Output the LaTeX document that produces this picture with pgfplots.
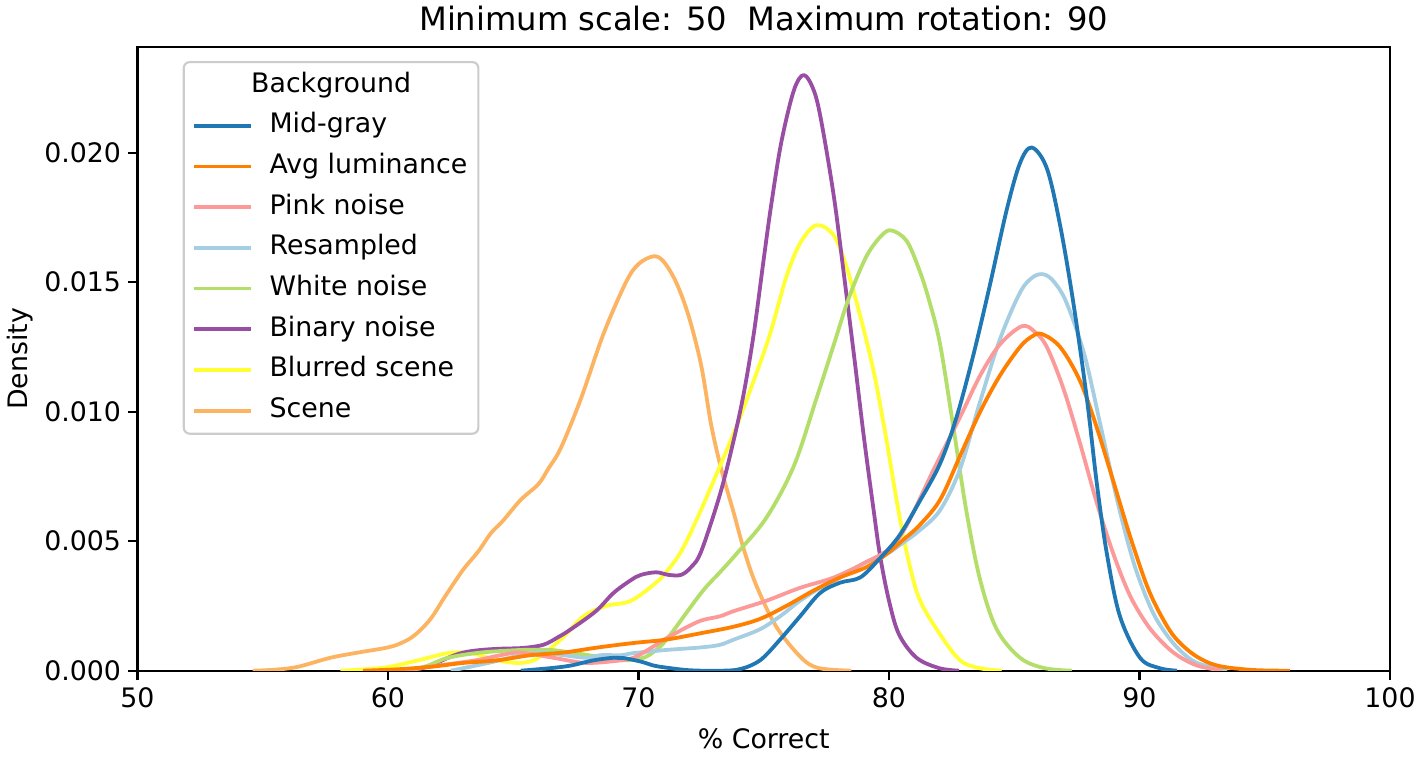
\documentclass[border=0pt]{standalone}
\usepackage{fontspec}
\setmainfont{DejaVu Sans}
\usepackage{pgfplots}
\pgfplotsset{compat=1.18}

\definecolor{cMid}{HTML}{1F78B4}
\definecolor{cAvg}{HTML}{FF7F00}
\definecolor{cPink}{HTML}{FB9A99}
\definecolor{cRes}{HTML}{A6CEE3}
\definecolor{cWhite}{HTML}{B3DE69}
\definecolor{cBin}{HTML}{984EA3}
\definecolor{cBlur}{HTML}{FFFF33}
\definecolor{cScene}{HTML}{FDB462}

\newcommand{\tfont}{\fontsize{13.4}{16}\selectfont}

\begin{document}
\begin{tikzpicture}
\begin{axis}[
  at={(0,0)}, anchor=south west,
  scale only axis,
  width=626.25pt, height=311.7pt,
  xmin=50, xmax=100, ymin=0, ymax=0.02407,
  xtick={50,60,70,80,90,100},
  ytick={0,0.005,0.010,0.015,0.020},
  scaled y ticks=false,
  yticklabel={\pgfmathprintnumber[fixed,fixed zerofill,precision=3]{\tick}},
  /pgf/number format/assume math mode=true,
  tick align=outside,
  xtick pos=bottom, ytick pos=left,
  major tick length=4.7pt,
  axis line style={line width=1.07pt},
  every tick/.style={line width=1.07pt, black},
  minor tick num=0,
  tick label style={font=\tfont},
  xticklabel style={anchor=north, yshift=0pt},
  yticklabel style={anchor=east},
  title={Minimum scale: 50\ \ Maximum rotation: 90},
  title style={font=\fontsize{16.1}{19}\selectfont, at={(axis description cs:0.5,1.0069)}, anchor=base, yshift=0pt},
  xlabel={\% Correct},
  xlabel style={font=\tfont, at={(axis description cs:0.5,-0.124)}, anchor=base},
  ylabel={Density},
  ylabel style={font=\tfont, at={(axis description cs:-0.0878,0.5)}, anchor=base},
  every axis plot/.append style={line width=1.9pt, line join=round, smooth, tension=0.55},
  legend cell align=left,
  legend image code/.code={\draw[#1, line width=1.9pt] (0pt,0pt) -- (28.5pt,0pt); \path (-3.5pt,0pt) (32pt,0pt);},
  legend style={
    at={(axis description cs:0.0361,0.978)}, anchor=north west,
    draw=black!20, line width=1.07pt, rounded corners=3pt, fill=white,
    font=\tfont, row sep=3.35pt,
    inner xsep=0.5pt, inner ysep=3pt,
    nodes={text height=10pt, text depth=3pt, inner ysep=2pt, inner xsep=5pt},
  },
]
% Scene
\addplot[cScene, forget plot] coordinates {
(54.6,0) (55.5,0.00004) (56.4,0.00015) (57.7,0.0005) (58.8,0.0007) (60.0,0.0009) (60.6,0.0011) (61.1,0.0014) (61.7,0.0020) (62.3,0.0029) (63.0,0.0039) (63.6,0.0046) (64.1,0.0053) (64.6,0.0058) (65.3,0.0066) (66.0,0.0072) (66.4,0.0078) (66.9,0.0086) (67.7,0.0105) (68.6,0.0130) (69.5,0.0150) (70.0,0.0157) (70.6,0.0160) (71.0,0.0158) (71.5,0.0150) (72.0,0.0137) (72.5,0.0118) (72.9,0.0095) (73.3,0.0078) (73.8,0.0061) (74.2,0.0047) (74.7,0.0033) (75.5,0.0017) (76.5,0.0005) (77.2,0.0001) (78.5,0)
};
% Blurred scene
\addplot[cBlur, forget plot] coordinates {
(58.1,0) (59.0,0.00005) (60.0,0.00014) (61.2,0.0004) (62.4,0.00068) (63.3,0.00068) (64.4,0.0004) (65.3,0.0003) (66.0,0.0005) (67.0,0.0013) (67.8,0.0021) (68.7,0.0025) (69.7,0.0027) (70.7,0.0034) (71.1,0.0038) (71.7,0.0046) (72.4,0.0060) (73.25,0.0079) (73.9,0.0094) (74.6,0.0112) (75.25,0.0130) (75.9,0.0152) (76.45,0.0165) (77.1,0.0172) (77.8,0.0168) (78.3,0.0156) (78.85,0.0137) (79.4,0.0115) (79.9,0.0089) (80.3,0.0066) (80.7,0.0046) (81.2,0.0028) (82.04,0.0014) (82.84,0.0004) (83.6,0.0001) (84.5,0)
};
% Binary noise
\addplot[cBin, forget plot] coordinates {
(61.0,0) (61.7,0.0002) (62.4,0.0005) (63.0,0.0007) (63.7,0.0008) (64.5,0.00085) (65.4,0.00088) (66.2,0.0010) (66.8,0.0013) (67.3,0.0016) (68.3,0.0023) (69.0,0.0030) (69.7,0.0035) (70.1,0.0037) (70.7,0.0038) (71.2,0.0037) (71.7,0.0037) (72.1,0.0040) (72.5,0.0046) (73.25,0.0068) (73.8,0.0089) (74.2,0.0107) (74.6,0.0130) (75.0,0.0159) (75.3,0.0180) (75.7,0.0204) (76.2,0.0224) (76.6,0.0230) (77.0,0.0224) (77.3,0.0212) (77.8,0.0183) (78.2,0.0153) (78.6,0.0122) (79.0,0.0090) (79.4,0.0061) (79.65,0.0044) (80.0,0.0027) (80.4,0.0014) (81.1,0.0005) (82.0,0.0001) (82.8,0)
};
% White noise
\addplot[cWhite, forget plot] coordinates {
(60.9,0) (61.6,0.0002) (62.4,0.0005) (63.7,0.0007) (65.3,0.0008) (66.5,0.0008) (67.3,0.0007) (68.0,0.0006) (68.6,0.0005) (69.5,0.0004) (70.2,0.0005) (70.7,0.0008) (71.2,0.0013) (72.5,0.0030) (73.25,0.0038) (73.9,0.0045) (75.1,0.0059) (76.2,0.0079) (77.1,0.0105) (77.8,0.0126) (78.4,0.0144) (79.1,0.0160) (79.7,0.0168) (80.1,0.0170) (80.7,0.0166) (81.2,0.0155) (81.6,0.0143) (82.04,0.0126) (82.57,0.0094) (83.1,0.0061) (83.64,0.0035) (84.3,0.0016) (85.23,0.0005) (86.2,0.0001) (87.3,0)
};
% Resampled
\addplot[cRes, forget plot] coordinates {
(62.5,0) (64.0,0.0003) (65.3,0.0006) (66.0,0.0007) (67.0,0.0006) (67.9,0.0005) (68.5,0.0006) (69.3,0.0006) (69.8,0.00068) (71.1,0.0008) (72.5,0.0009) (73.25,0.0010) (73.8,0.0012) (74.85,0.0016) (75.65,0.0021) (76.45,0.0027) (77.25,0.0032) (78.05,0.0036) (79.1,0.0042) (79.9,0.0045) (80.5,0.0049) (81.2,0.0054) (82.04,0.0062) (82.84,0.0078) (83.64,0.0104) (84.43,0.0128) (85.23,0.0146) (85.75,0.0152) (86.19,0.0153) (86.6,0.0150) (87.09,0.0142) (87.8,0.0122) (88.46,0.0094) (89.13,0.0065) (89.79,0.0041) (90.46,0.0024) (91.0,0.0015) (91.6,0.0008) (92.3,0.0003) (93.5,0)
};
% Pink noise
\addplot[cPink, forget plot] coordinates {
(60.5,0) (62.0,0.0002) (63.5,0.0004) (64.5,0.0006) (65.3,0.0007) (66.6,0.0005) (67.9,0.0003) (69.3,0.0004) (69.8,0.0005) (70.2,0.0007) (70.7,0.0010) (71.2,0.0013) (72.4,0.0019) (73.25,0.0021) (73.8,0.0023) (75.1,0.0027) (76.45,0.0032) (77.8,0.0036) (79.1,0.0042) (80.0,0.0047) (80.7,0.0056) (81.8,0.0078) (82.84,0.0098) (83.64,0.0114) (84.43,0.0126) (85.3,0.0133) (85.8,0.0131) (86.3,0.0125) (86.96,0.0109) (87.62,0.0088) (88.29,0.0065) (88.96,0.0045) (89.62,0.0029) (90.29,0.0018) (90.9,0.0011) (91.5,0.0006) (92.3,0.0002) (93.3,0)
};
% Avg luminance
\addplot[cAvg, forget plot] coordinates {
(59.0,0) (60.3,0.00005) (61.7,0.00015) (63.0,0.0003) (64.35,0.0004) (65.7,0.0006) (67.0,0.0007) (68.4,0.0009) (69.8,0.00107) (71.1,0.0012) (72.5,0.00145) (73.8,0.0017) (74.85,0.0020) (75.9,0.0025) (77.0,0.0031) (78.05,0.0036) (79.1,0.0040) (79.9,0.0045) (80.5,0.0050) (81.2,0.0056) (82.04,0.0066) (82.84,0.0083) (83.64,0.0100) (84.43,0.0114) (85.23,0.0125) (85.7,0.0129) (86.1,0.0130) (86.83,0.0125) (87.62,0.0112) (88.29,0.0094) (88.96,0.0073) (89.62,0.0052) (90.29,0.0033) (90.82,0.0022) (91.4,0.0013) (92.2,0.0006) (93.1,0.0002) (94.5,0.00003) (96.0,0)
};
% Mid-gray
\addplot[cMid, forget plot] coordinates {
(65.3,0) (66.5,0.0001) (67.3,0.0002) (68.2,0.0004) (69.0,0.0005) (69.4,0.00049) (70.1,0.00035) (70.6,0.0002) (71.1,0.00012) (72.0,0.00002) (73.0,0) (74.0,0.00005) (74.85,0.0004) (75.65,0.0012) (76.45,0.0021) (77.25,0.0030) (78.05,0.0034) (78.85,0.0036) (79.6,0.0043) (80.4,0.0052) (81.2,0.0065) (82.04,0.0080) (82.7,0.0098) (83.37,0.0122) (84.03,0.0149) (84.7,0.0178) (85.23,0.0196) (85.7,0.0202) (86.3,0.0194) (86.83,0.0172) (87.36,0.0142) (87.9,0.0105) (88.3,0.0072) (88.7,0.0045) (89.22,0.0021) (90.02,0.0005) (90.8,0.0001) (91.5,0)
};
\addlegendimage{empty legend}
\addlegendentry{\hspace{-9.2pt}Background}
\addlegendimage{cMid}\addlegendentry{Mid-gray}
\addlegendimage{cAvg}\addlegendentry{Avg luminance}
\addlegendimage{cPink}\addlegendentry{Pink noise}
\addlegendimage{cRes}\addlegendentry{Resampled}
\addlegendimage{cWhite}\addlegendentry{White noise}
\addlegendimage{cBin}\addlegendentry{Binary noise}
\addlegendimage{cBlur}\addlegendentry{Blurred scene}
\addlegendimage{cScene}\addlegendentry{Scene}
\end{axis}
\pgfresetboundingbox
\path[use as bounding box] (-68.75pt,-42.65pt) rectangle (640.25pt,335.35pt);
\end{tikzpicture}
\end{document}
